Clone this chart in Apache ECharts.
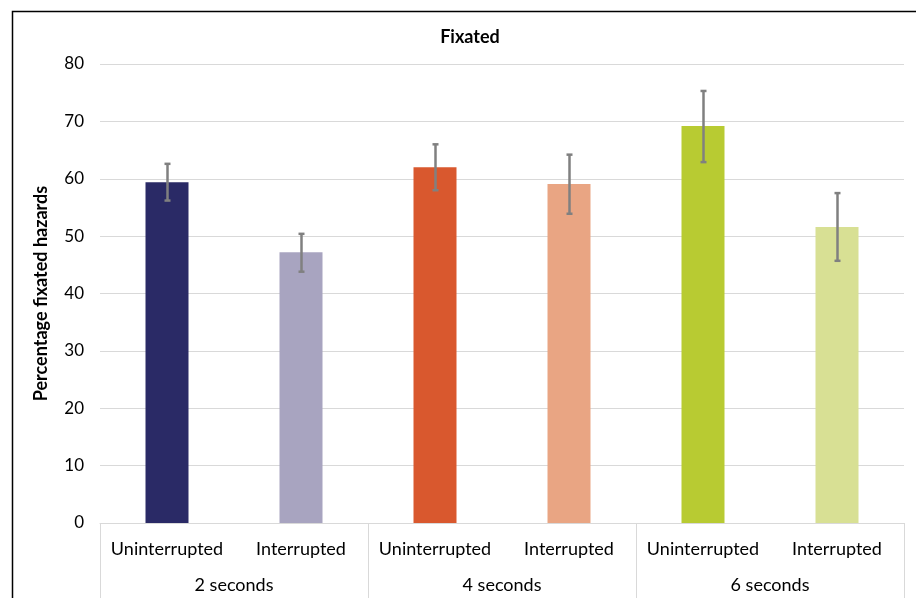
<!DOCTYPE html>
<html>
<head>
<meta charset="utf-8">
<script src="https://cdn.jsdelivr.net/npm/echarts@6/dist/echarts.min.js"></script>
<style>html,body{margin:0;padding:0;background:#fff;}#c{width:916px;height:598px;}</style>
</head>
<body>
<div id="c"></div>
<script>
var conditions = ['Uninterrupted', 'Interrupted', 'Uninterrupted', 'Interrupted', 'Uninterrupted', 'Interrupted'];
var groups = ['2 seconds', '4 seconds', '6 seconds'];
var values = [59.4, 47.2, 62.0, 59.1, 69.2, 51.6];
var errLow = [56.2, 43.8, 58.0, 53.9, 62.9, 45.7];
var errHigh = [62.6, 50.4, 66.0, 64.2, 75.3, 57.5];
var yTicks = [0, 10, 20, 30, 40, 50, 60, 70, 80];
var barColors = ['#2a2a66', '#a8a4c0', '#d9582e', '#e9a583', '#b8cb32', '#d8e094'];

var FONT = 'Lato, "Open Sans", sans-serif';
var chart = echarts.init(document.getElementById('c'), null, {renderer: 'canvas'});
chart.setOption({
  animation: false,
  backgroundColor: '#fff',
  title: {
    text: 'Fixated', left: 465, top: 23, textAlign: 'center',
    textStyle: {fontFamily: FONT, fontWeight: 'bold', fontSize: 18, color: '#000'}
  },
  graphic: [{
    type: 'rect', silent: true, z: 100,
    shape: {x: 12.5, y: 11.5, width: 960, height: 700},
    style: {fill: 'none', stroke: '#000', lineWidth: 1.5}
  }],
  grid: {left: 100, right: 12, top: 64, bottom: 75},
  xAxis: [{
    type: 'category', data: conditions, position: 'bottom',
    axisLine: {show: true, lineStyle: {color: '#d9d9d9', width: 1}},
    axisTick: {show: false},
    axisLabel: {interval: 0, margin: 17, fontFamily: FONT, fontSize: 18, color: '#000'}
  }, {
    type: 'category', data: groups, position: 'bottom',
    axisLine: {show: false},
    axisTick: {show: true, length: 80, interval: 0, lineStyle: {color: '#d9d9d9', width: 1}},
    axisLabel: {interval: 0, margin: 53, fontFamily: FONT, fontSize: 18, color: '#000'}
  }],
  yAxis: {
    type: 'value', min: yTicks[0], max: yTicks[yTicks.length - 1], interval: 10,
    name: 'Percentage fixated hazards', nameLocation: 'middle', nameGap: 50, nameRotate: 90,
    nameTextStyle: {fontFamily: FONT, fontWeight: 'bold', fontSize: 18, color: '#000'},
    axisLine: {show: false}, axisTick: {show: false},
    axisLabel: {margin: 16, fontFamily: FONT, fontSize: 17, color: '#000'},
    splitLine: {lineStyle: {color: '#d9d9d9', width: 1}}
  },
  series: [{
    type: 'bar', xAxisIndex: 0, barWidth: 43,
    data: values.map(function (v, i) { return {value: v, itemStyle: {color: barColors[i]}}; })
  }, {
    type: 'custom', xAxisIndex: 0, z: 10,
    data: values.map(function (v, i) { return [i, errLow[i], errHigh[i]]; }),
    renderItem: function (params, api) {
      var lo = api.coord([api.value(0), api.value(1)]);
      var hi = api.coord([api.value(0), api.value(2)]);
      var x = Math.round(lo[0]) + 0.5, hw = 3;
      var st = {stroke: '#808080', lineWidth: 2.5};
      return {type: 'group', children: [
        {type: 'line', shape: {x1: x, y1: lo[1], x2: x, y2: hi[1]}, style: st},
        {type: 'line', shape: {x1: x - hw, y1: lo[1], x2: x + hw, y2: lo[1]}, style: st},
        {type: 'line', shape: {x1: x - hw, y1: hi[1], x2: x + hw, y2: hi[1]}, style: st}
      ]};
    }
  }]
});
</script>
</body>
</html>
